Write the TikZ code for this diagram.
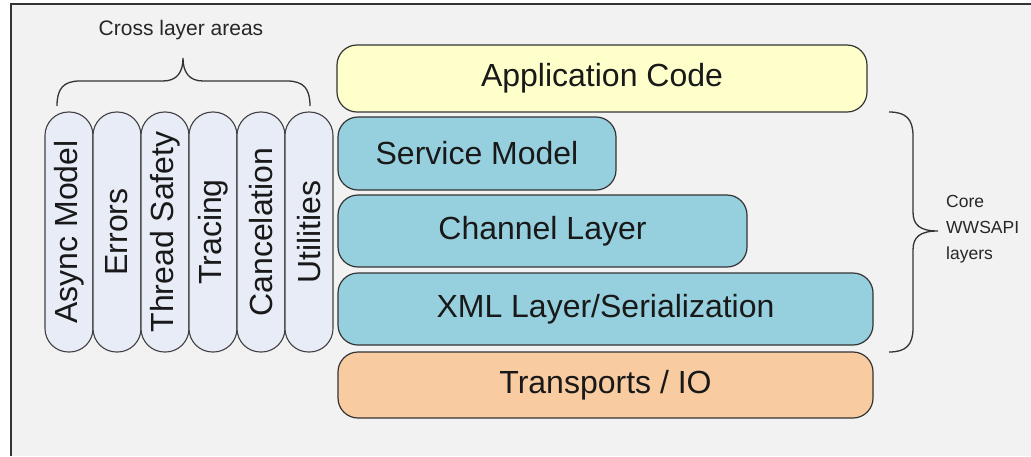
\documentclass[tikz,border=0pt]{standalone}
\usepackage{fontspec}
\setmainfont{Liberation Sans}
\begin{document}
\begin{tikzpicture}[x=1pt,y=-1pt,
  framecol/.style={draw=black!80, line width=2pt},
  layerbox/.style={draw=black!80, line width=1.2pt, rounded corners=20pt, inner sep=0pt, text=black!90,
     font=\fontsize{32}{36}\selectfont},
  pillbox/.style={draw=black!75, line width=1.1pt, fill=pillcol, rounded corners=23.5pt, inner sep=0pt,
     minimum width=240pt, minimum height=48pt, rotate=90, text=black!90, font=\fontsize{32}{36}\selectfont},
  bracepath/.style={draw=black!80, line width=1.3pt},
  smalllabel/.style={text=black!85, inner sep=0pt}
]
\definecolor{bgcol}{HTML}{F2F2F2}
\definecolor{pillcol}{HTML}{E8ECF7}
\definecolor{appcol}{HTML}{FFFFCC}
\definecolor{tealcol}{HTML}{96D0DE}
\definecolor{peachcol}{HTML}{F8CCA0}
\useasboundingbox (0,0) rectangle (1031,456);
\fill[white] (0,0) rectangle (1031,456);
\fill[bgcol] (11,4) rectangle (1031,456);
\draw[framecol] (10,4) -- (1031,4);
\draw[framecol] (11,3) -- (11,456);

% cross layer pills
\node[pillbox] (p1) at (69,232) {Async Model};
\node[pillbox] (p2) at (117,232) {Errors};
\node[pillbox] (p3) at (165,232) {Thread Safety};
\node[pillbox] (p4) at (213,232) {Tracing};
\node[pillbox] (p5) at (261,232) {Cancelation};
\node[pillbox] (p6) at (309,232) {Utilities};

% layers
\node[layerbox, fill=appcol, minimum width=530pt, minimum height=67pt] (app) at (602,78.5) {Application Code};
\node[layerbox, fill=tealcol, minimum width=278pt, minimum height=73pt] (svc) at (477,153.5) {Service Model};
\node[layerbox, fill=tealcol, minimum width=409pt, minimum height=72pt] (chn) at (542.5,231) {Channel Layer};
\node[layerbox, fill=tealcol, minimum width=535pt, minimum height=72pt] (xml) at (605.5,309) {XML Layer/Serialization};
\node[layerbox, fill=peachcol, minimum width=535pt, minimum height=66pt] (trn) at (605.5,385) {Transports / IO};

% top brace
\draw[bracepath] (57,106) .. controls (57,89) and (63,81) .. (80,81) -- (163,81)
  .. controls (177,81) and (183,72) .. (183,58)
  .. controls (183,72) and (189,81) .. (203,81) -- (287,81)
  .. controls (304,81) and (310,89) .. (310,106);
\node[smalllabel, font=\fontsize{21}{24}\selectfont] (cross) at (181,30) {Cross layer areas};

% right brace
\draw[bracepath] (889,112) .. controls (906,112) and (913,119) .. (913,136) -- (913,212)
  .. controls (913,225) and (920,231) .. (938,231)
  .. controls (920,231) and (913,237) .. (913,250) -- (913,328)
  .. controls (913,345) and (906,352) .. (889,352);
\node[smalllabel, anchor=west, align=left, font=\fontsize{17.5}{26}\selectfont] (core) at (946,229) {Core\\WWSAPI\\layers};
\end{tikzpicture}
\end{document}
